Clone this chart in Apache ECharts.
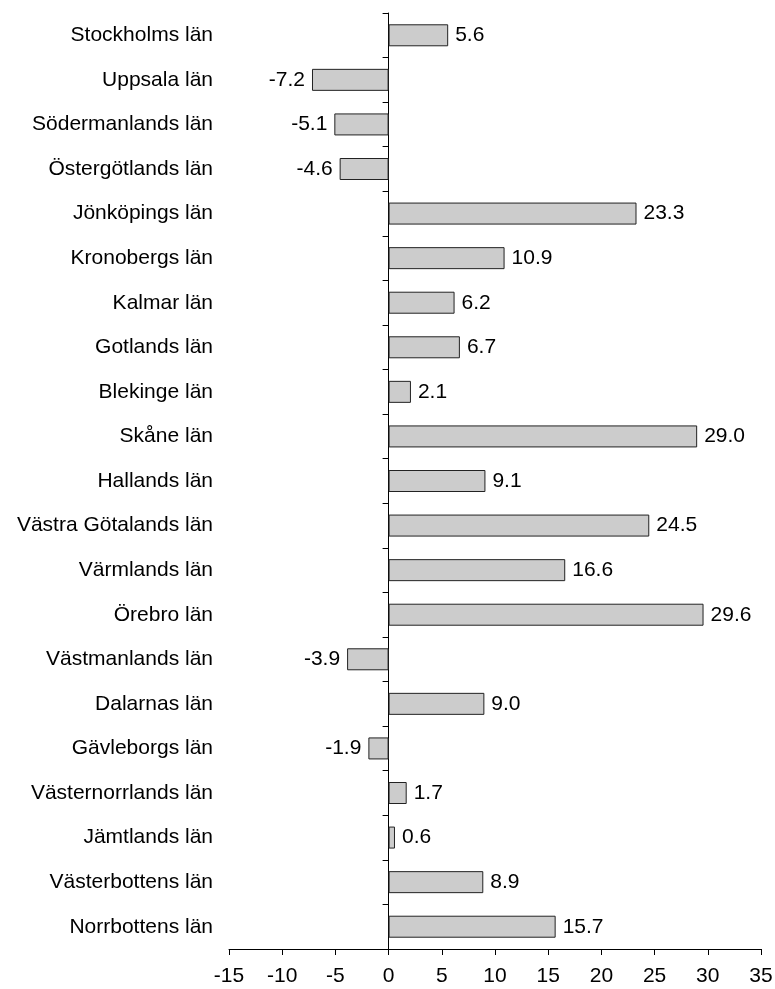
<!DOCTYPE html>
<html>
<head>
<meta charset="utf-8">
<script src="https://cdn.jsdelivr.net/npm/echarts@6/dist/echarts.min.js"></script>
<style>
  html, body { margin: 0; padding: 0; background: #fff; }
  #chart { width: 775px; height: 989px; }
</style>
</head>
<body>
<div id="chart"></div>
<script>
  var counties = [
    'Stockholms län', 'Uppsala län', 'Södermanlands län', 'Östergötlands län',
    'Jönköpings län', 'Kronobergs län', 'Kalmar län', 'Gotlands län',
    'Blekinge län', 'Skåne län', 'Hallands län', 'Västra Götalands län',
    'Värmlands län', 'Örebro län', 'Västmanlands län', 'Dalarnas län',
    'Gävleborgs län', 'Västernorrlands län', 'Jämtlands län',
    'Västerbottens län', 'Norrbottens län'
  ];
  var values = [
    5.6, -7.2, -5.1, -4.6, 23.3, 10.9, 6.2, 6.7, 2.1, 29.0, 9.1,
    24.5, 16.6, 29.6, -3.9, 9.0, -1.9, 1.7, 0.6, 8.9, 15.7
  ];
  var xMin = -15, xMax = 35, xStep = 5;

  var font = 'Liberation Sans, Arial, sans-serif';
  var chart = echarts.init(document.getElementById('chart'));

  var barData = values.map(function (v) {
    return {
      value: v,
      label: { position: v < 0 ? 'left' : 'right' }
    };
  });

  var option = {
    animation: false,
    backgroundColor: '#fff',
    grid: { left: 229, right: 14, top: 13, bottom: 40, containLabel: false, outerBoundsMode: 'none' },
    xAxis: {
      type: 'value',
      min: xMin,
      max: xMax,
      interval: xStep,
      axisLine: { show: true, onZero: false, lineStyle: { color: '#000', width: 1 } },
      axisTick: { show: true, length: 6, lineStyle: { color: '#000' } },
      axisLabel: { color: '#000', fontSize: 21, fontFamily: font, margin: 17, hideOverlap: false },
      splitLine: { show: false }
    },
    yAxis: {
      type: 'category',
      inverse: true,
      data: counties,
      axisLine: { show: true, onZero: true, lineStyle: { color: '#000', width: 1 } },
      axisTick: { show: true, length: 6, lineStyle: { color: '#000' } },
      axisLabel: {
        color: '#000', fontSize: 21, fontFamily: font,
        margin: 16, align: 'right', interval: 0
      },
      splitLine: { show: false }
    },
    series: [{
      type: 'bar',
      data: barData,
      barWidth: 22,
      itemStyle: { color: '#cccccc', borderColor: '#222', borderWidth: 1 },
      label: {
        show: true,
        distance: 7,
        color: '#000',
        fontSize: 21,
        fontFamily: font,
        formatter: function (p) { return p.value.toFixed(1); }
      }
    }]
  };

  chart.setOption(option, true);
  window.onresize = function () {
    chart.resize();
  };
</script>
</body>
</html>
